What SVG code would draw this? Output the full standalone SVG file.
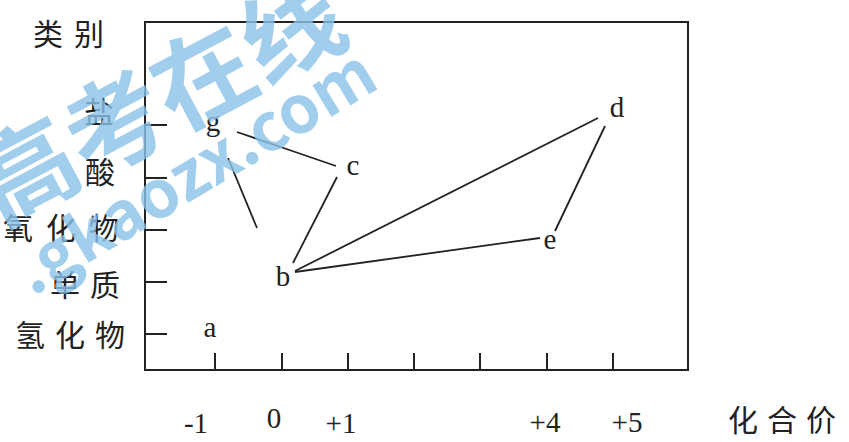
<svg xmlns="http://www.w3.org/2000/svg" width="849" height="442" viewBox="0 0 849 442">
<style>
.ax{fill:none;stroke:#222;stroke-width:2}
.ln{stroke:#222;stroke-width:1.8;fill:none}
.cn{font-family:"Noto Sans CJK SC","Noto Sans CJK JP",sans-serif;font-size:30px;fill:#222}
.pt{font-family:"Liberation Serif",serif;font-size:29px;fill:#222}
.nm{font-family:"Liberation Serif",serif;font-size:29px;fill:#222}
.wm{font-family:"Noto Sans CJK SC","DejaVu Sans",sans-serif;font-weight:bold;fill:#8cc2ea;opacity:0.8}
</style>
<rect width="849" height="442" fill="#fff"/>
<g id="axes">
<rect class="ax" x="145" y="22" width="543" height="348"/>
<path class="ax" d="M145 125h22M145 178h22M145 230h22M145 282h22M145 334h22"/>
<path class="ax" d="M215 370v-17M282 370v-17M348 370v-17M414 370v-17M480 370v-17M547 370v-17M613 370v-17"/>
</g>
<g id="ylabels">
<text class="cn" x="33" y="45" letter-spacing="11">类别</text>
<text class="cn" x="84" y="123">盐</text>
<text class="cn" x="85" y="183">酸</text>
<text class="cn" x="3" y="239" letter-spacing="13">氧化物</text>
<text class="cn" x="50" y="296" letter-spacing="10">单质</text>
<text class="cn" x="15" y="346" letter-spacing="10">氢化物</text>
</g>
<g id="xlabels">
<text class="nm" x="196" y="433" text-anchor="middle">-1</text>
<text class="nm" x="274" y="428" text-anchor="middle">0</text>
<text class="nm" x="341" y="433" text-anchor="middle">+1</text>
<text class="nm" x="545" y="432" text-anchor="middle">+4</text>
<text class="nm" x="627" y="432" text-anchor="middle">+5</text>
<text class="cn" x="728" y="431" letter-spacing="9">化合价</text>
</g>
<g id="connectors">
<line class="ln" x1="237" y1="132" x2="336" y2="166"/>
<line class="ln" x1="228" y1="158" x2="257" y2="228"/>
<line class="ln" x1="337" y1="177" x2="293" y2="263"/>
<line class="ln" x1="295" y1="271" x2="598" y2="118"/>
<line class="ln" x1="295" y1="272" x2="540" y2="238"/>
<line class="ln" x1="605" y1="126" x2="555" y2="231"/>
</g>
<g id="node-g"><text class="pt" x="213" y="131" text-anchor="middle">g</text></g>
<g id="node-c"><text class="pt" x="353" y="175" text-anchor="middle">c</text></g>
<g id="node-b"><text class="pt" x="283" y="286" text-anchor="middle">b</text></g>
<g id="node-a"><text class="pt" x="210" y="337" text-anchor="middle">a</text></g>
<g id="node-d"><text class="pt" x="617" y="117" text-anchor="middle">d</text></g>
<g id="node-e"><text class="pt" x="550" y="249" text-anchor="middle">e</text></g>
<g id="watermark">
<text class="wm" font-size="100" transform="translate(160,102) rotate(-28)" x="0" y="35" text-anchor="middle">高考在线</text>
<text class="wm" font-size="66" transform="translate(195,172) rotate(-31)" x="0" y="23" text-anchor="middle">.gkaozx.com</text>
</g>
</svg>
